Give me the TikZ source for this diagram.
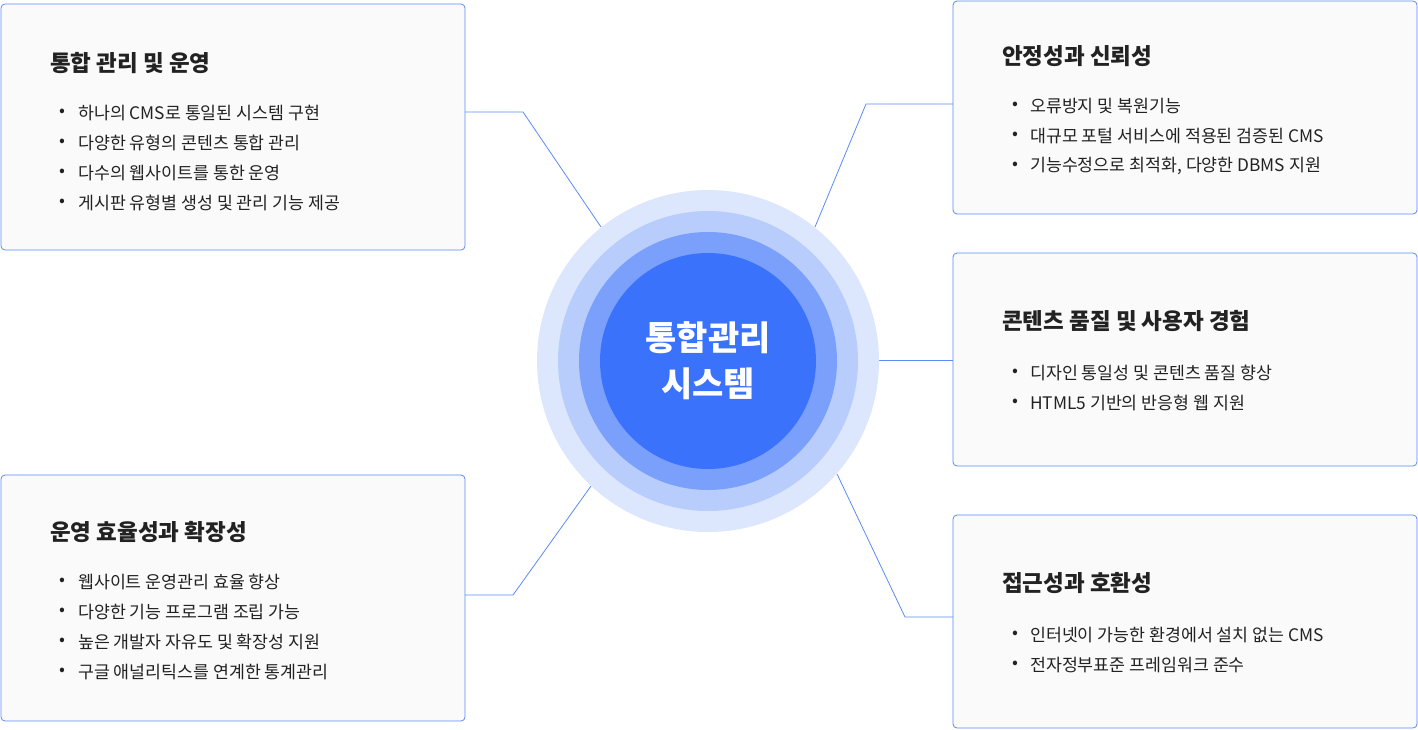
\documentclass[tikz,border=0pt]{standalone}
\usepackage{fontspec}
\setmainfont{Noto Sans CJK KR}
\begin{document}
\begin{tikzpicture}[x=1pt,y=-1pt,
  box/.style={draw=bordc,fill=boxf,rounded corners=4pt,line width=0.8pt},
  ttl/.style={anchor=west,inner sep=0pt,font=\fontsize{22.5}{26}\selectfont\bfseries,text=txt},
  itm/.style={anchor=west,inner sep=0pt,font=\fontsize{17.3}{20}\selectfont,text=txt},
  conn/.style={draw=linec,line width=0.8pt}]
\definecolor{bordc}{HTML}{5B8AF5}
\definecolor{boxf}{HTML}{FAFAFA}
\definecolor{linec}{HTML}{5B8AF5}
\definecolor{txt}{HTML}{222222}
\definecolor{c1}{HTML}{DCE6FD}
\definecolor{c2}{HTML}{B9CDFC}
\definecolor{c3}{HTML}{7AA0FB}
\definecolor{c4}{HTML}{3B72FB}
\useasboundingbox (0,0) rectangle (1418,729);
% boxes
\draw[box] (1,4) rectangle (465,250);
\draw[box] (1,475) rectangle (465,721);
\draw[box] (953,1) rectangle (1417,214);
\draw[box] (953,253) rectangle (1417,466);
\draw[box] (953,515) rectangle (1417,728);
% connectors
\coordinate (a0) at (465,112); \coordinate (a1) at (523,112); \coordinate (a2) at (601,227);
\coordinate (b0) at (465,595); \coordinate (b1) at (513,595); \coordinate (b2) at (591,486);
\coordinate (c0) at (953,104); \coordinate (c1p) at (866,104); \coordinate (c2p) at (815,227);
\coordinate (d0) at (953,360); \coordinate (d1) at (879,360);
\coordinate (e0) at (953,617); \coordinate (e1) at (905,617); \coordinate (e2) at (837,474);
\draw[conn] (a0)--(a1)--(a2);
\draw[conn] (b0)--(b1)--(b2);
\draw[conn] (c0)--(c1p)--(c2p);
\draw[conn] (d0)--(d1);
\draw[conn] (e0)--(e1)--(e2);
% circles
\fill[c1] (708,361) circle (171);
\fill[c2] (708,361) circle (150);
\fill[c3] (708,361) circle (129);
\fill[c4] (708,361) circle (108);
\node[align=center,text=white,font=\fontsize{34}{46}\selectfont\bfseries] (ctr) at (708,361) {통합관리\\시스템};
% TL
\node[ttl] (t1) at (50,63) {통합 관리 및 운영};
\foreach \y/\t in {113/하나의 CMS로 통일된 시스템 구현,143/다양한 유형의 콘텐츠 통합 관리,173/다수의 웹사이트를 통한 운영,203/게시판 유형별 생성 및 관리 기능 제공}
  {\node[itm] at (59,\y) {•}; \node[itm] at (78,\y) {\t};}
% BL
\node[ttl] (t2) at (50,532) {운영 효율성과 확장성};
\foreach \y/\t in {582/웹사이트 운영관리 효율 향상,612/다양한 기능 프로그램 조립 가능,642/높은 개발자 자유도 및 확장성 지원,672/구글 애널리틱스를 연계한 통계관리}
  {\node[itm] at (59,\y) {•}; \node[itm] at (78,\y) {\t};}
% TR
\node[ttl] (t3) at (1002,56) {안정성과 신뢰성};
\foreach \y/\t in {106/오류방지 및 복원기능,136/대규모 포털 서비스에 적용된 검증된 CMS,166/{기능수정으로 최적화, 다양한 DBMS 지원}}
  {\node[itm] at (1012,\y) {•}; \node[itm] at (1030,\y) {\t};}
% MR
\node[ttl] (t4) at (1002,321) {콘텐츠 품질 및 사용자 경험};
\foreach \y/\t in {373/디자인 통일성 및 콘텐츠 품질 향상,403/HTML5 기반의 반응형 웹 지원}
  {\node[itm] at (1012,\y) {•}; \node[itm] at (1030,\y) {\t};}
% BR
\node[ttl] (t5) at (1002,583) {접근성과 호환성};
\foreach \y/\t in {635/인터넷이 가능한 환경에서 설치 없는 CMS,665/전자정부표준 프레임워크 준수}
  {\node[itm] at (1012,\y) {•}; \node[itm] at (1030,\y) {\t};}
\end{tikzpicture}
\end{document}
